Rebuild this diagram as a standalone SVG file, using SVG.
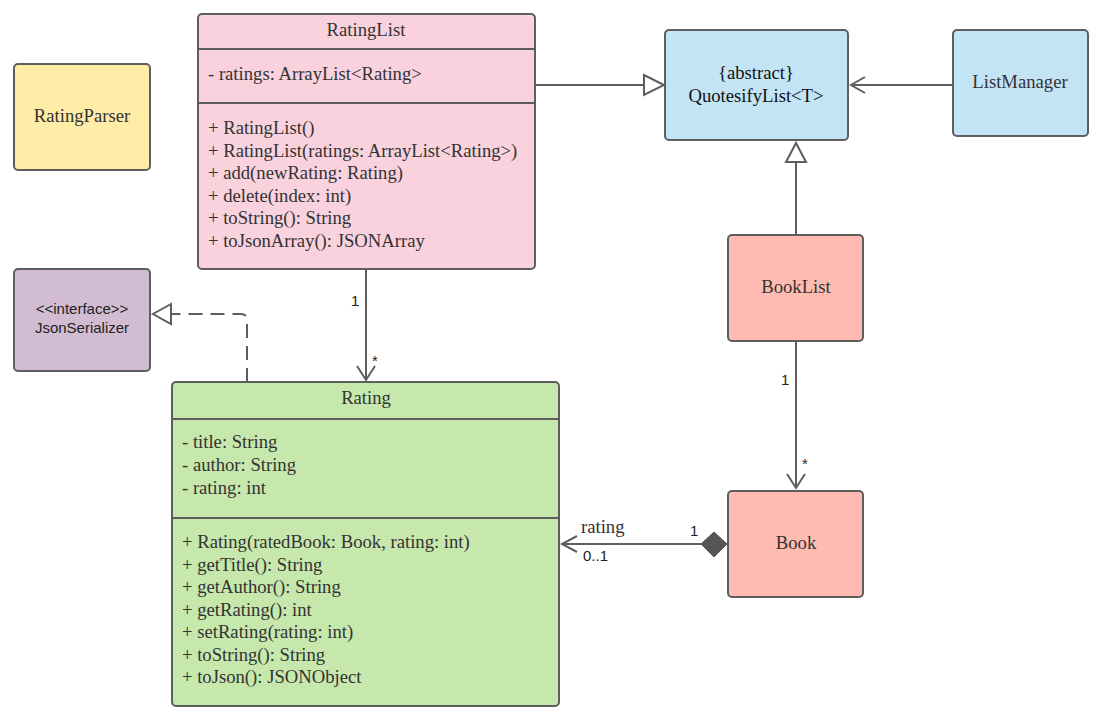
<svg xmlns="http://www.w3.org/2000/svg" width="1101" height="727" viewBox="0 0 1101 727">
<style>
.box{stroke:#5e5e5e;stroke-width:2}
.div{stroke:#5e5e5e;stroke-width:2}
.ln{fill:none;stroke:#5e5e5e;stroke-width:2}
</style>
<rect width="1101" height="727" fill="#fff"/>
<g id="RatingParser">
<rect class="box" x="14" y="64" width="136" height="106" rx="4" fill="#FFECA6"/>
<text x="82" y="122" font-family="Liberation Serif, serif" font-size="18.67" fill="#333" text-anchor="middle">RatingParser</text>
</g>
<g id="JsonSerializer">
<rect class="box" x="14" y="269" width="136" height="102" rx="4" fill="#D1BCD2"/>
<g font-family="Liberation Sans, sans-serif" font-size="15" fill="#222" text-anchor="middle">
<text x="82" y="314">&lt;&lt;interface&gt;&gt;</text>
<text x="82" y="333">JsonSerializer</text>
</g>
</g>
<g id="RatingList">
<rect class="box" x="198" y="14" width="337" height="255" rx="4" fill="#F9D2DE"/>
<line class="div" x1="198" y1="49" x2="535" y2="49"/>
<line class="div" x1="198" y1="103" x2="535" y2="103"/>
<g font-family="Liberation Serif, serif" font-size="18.67" fill="#333">
<text x="366" y="36" text-anchor="middle">RatingList</text>
<text x="208" y="80">- ratings: ArrayList&lt;Rating&gt;</text>
<text x="208" y="134">+ RatingList()</text>
<text x="208" y="157">+ RatingList(ratings: ArrayList&lt;Rating&gt;)</text>
<text x="208" y="179">+ add(newRating: Rating)</text>
<text x="208" y="202">+ delete(index: int)</text>
<text x="208" y="224">+ toString(): String</text>
<text x="208" y="247">+ toJsonArray(): JSONArray</text>
</g>
</g>
<g id="QuotesifyList">
<rect class="box" x="665" y="30" width="183" height="110" rx="4" fill="#C3E4F5"/>
<g font-family="Liberation Serif, serif" font-size="18.67" fill="#111" text-anchor="middle">
<text x="756" y="79">{abstract}</text>
<text x="756" y="102">QuotesifyList&lt;T&gt;</text>
</g>
</g>
<g id="ListManager">
<rect class="box" x="953" y="30" width="135" height="106" rx="4" fill="#C3E4F5"/>
<text x="1020" y="88" font-family="Liberation Serif, serif" font-size="18.67" fill="#333" text-anchor="middle">ListManager</text>
</g>
<g id="BookList">
<rect class="box" x="728" y="235" width="135" height="106" rx="4" fill="#FFBBB1"/>
<text x="796" y="293" font-family="Liberation Serif, serif" font-size="18.67" fill="#333" text-anchor="middle">BookList</text>
</g>
<g id="Book">
<rect class="box" x="728" y="491" width="135" height="106" rx="4" fill="#FFBBB1"/>
<text x="796" y="549" font-family="Liberation Serif, serif" font-size="18.67" fill="#333" text-anchor="middle">Book</text>
</g>
<g id="Rating">
<rect class="box" x="172" y="382" width="387" height="324" rx="4" fill="#C7E8AC"/>
<line class="div" x1="172" y1="419" x2="559" y2="419"/>
<line class="div" x1="172" y1="518" x2="559" y2="518"/>
<g font-family="Liberation Serif, serif" font-size="18.67" fill="#333">
<text x="366" y="404" text-anchor="middle">Rating</text>
<text x="182" y="448">- title: String</text>
<text x="182" y="471">- author: String</text>
<text x="182" y="494">- rating: int</text>
<text x="182" y="548">+ Rating(ratedBook: Book, rating: int)</text>
<text x="182" y="571">+ getTitle(): String</text>
<text x="182" y="593">+ getAuthor(): String</text>
<text x="182" y="616">+ getRating(): int</text>
<text x="182" y="638">+ setRating(rating: int)</text>
<text x="182" y="661">+ toString(): String</text>
<text x="182" y="683">+ toJson(): JSONObject</text>
</g>
</g>
<g id="connectors">
<line class="ln" x1="535" y1="85" x2="644" y2="85"/>
<polygon class="ln" points="644,75 664,85 644,95" fill="#fff"/>
<line class="ln" x1="953" y1="85" x2="851" y2="85"/>
<polyline class="ln" points="865,77 851,85 865,93"/>
<line class="ln" x1="796" y1="235" x2="796" y2="162"/>
<polygon class="ln" points="786,162 796,143 806,162" fill="#fff"/>
<line class="ln" x1="366" y1="269" x2="366" y2="380"/>
<polyline class="ln" points="357,366 366,380 375,366"/>
<path class="ln" d="M247,382 V320 Q247,314 241,314 H171" stroke-dasharray="14,8"/>
<polygon class="ln" points="171,304 153,314 171,324" fill="#fff"/>
<line class="ln" x1="796" y1="341" x2="796" y2="488"/>
<polyline class="ln" points="787,474 796,488 805,474"/>
<line class="ln" x1="701" y1="544" x2="562" y2="544"/>
<polyline class="ln" points="577,536 562,544 577,552"/>
<polygon points="701,544 714,532 727,544 714,557" fill="#555" stroke="#555" stroke-width="1"/>
<g font-family="Liberation Sans, sans-serif" font-size="15" fill="#222">
<text x="351" y="306">1</text>
<text x="372" y="366">*</text>
<text x="781" y="385">1</text>
<text x="802" y="469">*</text>
<text x="583" y="561">0..1</text>
<text x="690" y="536">1</text>
</g>
<text x="581" y="533" font-family="Liberation Serif, serif" font-size="18.67" fill="#333">rating</text>
</g>
</svg>
